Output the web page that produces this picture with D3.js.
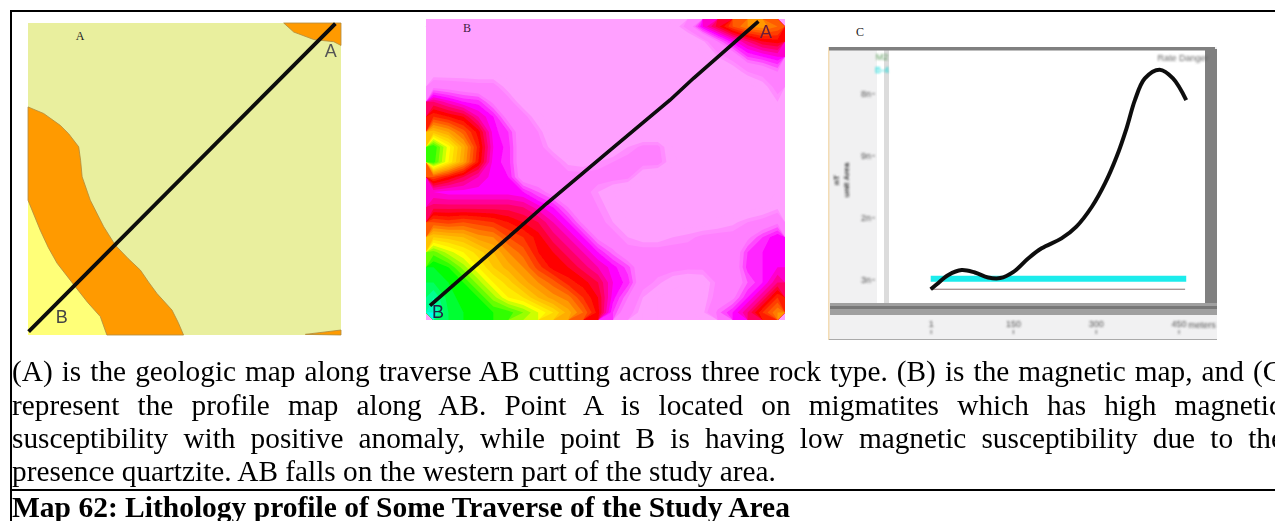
<!DOCTYPE html>
<html>
<head>
<meta charset="utf-8">
<script src="https://cdn.jsdelivr.net/npm/d3@7"></script>
<style>
  html, body { margin: 0; padding: 0; background: #fff; overflow: hidden; }
  svg { display: block; }
</style>
</head>
<body>
<div id="chart"></div>
<script>
// geologic map units, in percent of map width / height
var orangeBand = [[0,26.9],[5,29],[10.3,32.8],[13,35.5],[16.2,39.7],[16.8,44],[17.3,49.3],[19.9,56.8],[24.2,65.3],[27.9,71.2],[32,75.5],[35.9,79.2],[38.5,83],[41.2,86.7],[46,92],[48,96],[49.7,100],[25.2,100],[23.1,94.1],[19,89.5],[15.1,84.5],[9.3,77],[6.5,72],[3.9,66.4],[0,56.8]];
var quartzite = [[0,56.8],[3.9,66.4],[9.3,77],[15.1,84.5],[23.1,94.1],[25.2,100],[0,100]];
var migmatite = [[81.7,0],[84.9,2.9],[91.3,5.3],[97.7,6],[100,7.2],[100,0]];
var cornerPatch = [[88.6,99.8],[100,98.4],[100,100]];
var traverseA = [[98.2,0.2],[0.2,98.9]];

// magnetic map on a 24 x 20 grid
// 0 pale pink, 1 pink, 2 magenta, 3 red, 4 orange, 5 yellow, 6 green, 7 cyan
var magneticGrid = [
  0,0,0,0,0,0,0,0,0,0,0,0,0,0,0,0,0.3,1,2.2,2.9,3.6,4,4.1,3.8,
  0,0,0,0,0,0,0,0,0,0,0,0,0,0,0,0,0,0,0.5,1.4,2.1,2.6,3,3.1,
  0,0,0,0,0,0,0,0,0,0,0,0,0,0,0,0,0,0,0.2,0.6,1,1.8,2,2.2,
  0.2,0.2,0.2,0.2,0.2,0,0,0,0,0,0,0,0,0,0,0,0,0,0,0,0.3,0.8,1,1.4,
  1.3,1.2,1.1,1,1,0.4,0,0,0,0,0,0,0,0,0,0,0,0,0,0,0,0,0.4,1,
  2.6,2.3,2,1.9,1.3,1,0.3,0,0,0,0,0,0,0,0,0,0,0,0,0,0,0,0,0.6,
  3.4,3.2,3,2.4,2,1.2,1,0.3,0,0,0,0,0,0,0,0,0,0,0,0,0,0,0,0.2,
  4.5,4.2,3.7,3.1,2.1,1.8,1,0.8,0.1,0,0,0,0,0,0,0,0,0,0,0,0,0,0,0,
  6,5.1,4.3,3.3,2.2,1.9,1,1,0.4,0,0,0,0.2,0.6,0.9,0.9,0.2,0,0,0,0,0,0,0,
  5.9,5,4.2,3.2,2.1,1.9,1,1,1,0.5,0.4,0.6,0.8,1,1,1,0.3,0,0,0,0,0,0,0,
  3.6,3.2,2.8,2.4,2.1,2,1.1,1,1,1,1,1,1,0.9,0.2,0,0,0,0,0,0,0,0,0,
  2.2,2.1,2.1,2.1,2.1,2.1,2,1.6,1.2,1,1,0.6,0.2,0,0,0,0,0,0,0,0,0,0,0.2,
  2.7,2.7,2.7,2.7,2.7,2.7,2.6,2.3,2,1.4,1,0.8,0.4,0,0,0,0,0,0,0,0,0,0.2,0.5,
  3.6,3.5,3.6,3.5,3.4,3.2,3,2.8,2.4,2,1.3,1,0.6,0.2,0.2,0.2,0.2,0.2,0.2,0.3,0.5,0.8,1,1.3,
  4.6,4.5,4.4,4.1,4,3.6,3.4,3.1,2.7,2.4,2,1.3,1,0.6,0.4,0.4,0.6,0.7,0.9,1,1,1.3,1.8,2.2,
  5.7,5.3,5,4.7,4.4,4,3.7,3.2,3,2.7,2.4,2,1.5,1,1,1,1,1,1,1,1,1.8,2,2.1,
  6.2,6,5.5,5,4.6,4.3,4,3.5,3.1,3,2.7,2.4,2.1,1.7,1,1,1,0.9,0.9,1,1,1.9,2,2.2,
  6.4,6.2,6,5.5,5,4.7,4.3,4,3.7,3.3,3.1,2.8,2.2,1.9,1,0.7,0.3,0.2,0.3,0.9,1,1.6,2,2.6,
  6.8,6.3,6.1,6,5.5,5,4.8,4.4,4.1,3.9,3.4,3,2.1,1.4,0.6,0.2,0.1,0.1,0.4,1,1.3,2,2.6,3.4,
  7,6.4,6.2,6.1,6,5.9,5.6,5.2,4.8,4.3,3.8,3.1,1.8,1,0.4,0.2,0.1,0.1,0.5,1.5,2,2.6,3.4,4
];
var gridCols = 24, gridRows = 20;
var magneticLevels = [0, 0.45, 0.7, 1.3, 2, 3, 4, 5, 6, 7];
var magneticColors = ["#ffa0ff", "#ffa0ff", "#ff80ff", "#ff80ff", "#ff00ff", "#ff0000", "#ff9900", "#ffff00", "#00ff00", "#00ffee"];
var traverseB = [[92.6,0.8],[74.5,19.7],[68,26.9],[51.3,43.6],[33.6,61.3],[26.2,69.1],[1.1,95.2]];

// profile along AB
var profileX = [1,12,33,57,81,105,127,151,178,202,238,265,293,317,338,356,371,389,416,440,464];
var profileY = [-0.16,-0.08,0.07,0.15,0.11,0.03,0.02,0.12,0.34,0.5,0.66,0.85,1.17,1.55,1.98,2.44,2.89,3.24,3.38,3.24,2.89];
var regionalX = [1,464];
var regionalY = [0.01,0.01];
var baseX = [1,462];
var baseY = [-0.16,-0.16];
var xTicks = [1,150,300,450];
var xTickLabels = ["1","150","300","450"];
var yTicks = [0,1,2,3];
var yTickLabels = ["3n","2n","9n","8n"];

var captionLines = [
  "(A) is the geologic map along traverse AB cutting across three rock type. (B) is the magnetic map, and (C)",
  "represent the profile map along AB. Point A is located on migmatites which has high magnetic",
  "susceptibility with positive anomaly, while point B is having low magnetic susceptibility due to the",
  "presence quartzite. AB falls on the western part of the study area."
];
var captionJustify = [true, true, true, false];
var captionEnd = [1292, 1282, 1284, 0];
var title = "Map 62: Lithology profile of Some Traverse of the Study Area";

var width = 1275,
    height = 521;

var svg = d3.select("#chart")
  .append("svg")
  .attr("width", width)
  .attr("height", height);

var defs = svg.append("defs");
defs.append("filter").attr("id", "soft").append("feGaussianBlur").attr("stdDeviation", 0.5);
defs.append("filter").attr("id", "softer").append("feGaussianBlur").attr("stdDeviation", 0.8);

svg.append("rect").attr("width", width).attr("height", height).attr("fill", "#fff");

// ---- map A ----
var xA = d3.scaleLinear().domain([0, 100]).range([28, 341]);
var yA = d3.scaleLinear().domain([0, 100]).range([23, 335]);
var lineA = d3.line().x(function(d) { return xA(d[0]); }).y(function(d) { return yA(d[1]); });

var gA = svg.append("g").attr("filter", "url(#soft)");
gA.append("rect")
  .attr("x", xA(0)).attr("y", yA(0))
  .attr("width", xA(100) - xA(0)).attr("height", yA(100) - yA(0))
  .attr("fill", "#e9ef9e");
gA.append("path").attr("d", lineA(quartzite) + "Z").attr("fill", "#ffff78");
[orangeBand, migmatite, cornerPatch].forEach(function(p) {
  gA.append("path")
    .attr("d", lineA(p) + "Z")
    .attr("fill", "#ff9a05")
    .attr("stroke", "#b08a3a")
    .attr("stroke-width", 0.8);
});
gA.append("path")
  .attr("d", lineA(traverseA))
  .attr("fill", "none")
  .attr("stroke", "#0a0a0a")
  .attr("stroke-width", 3.8);
gA.append("text").attr("x", xA(96.7)).attr("y", yA(11)).attr("text-anchor", "middle")
  .attr("font-family", "Liberation Sans").attr("font-size", 18).attr("fill", "#555").text("A");
gA.append("text").attr("x", xA(10.8)).attr("y", yA(96)).attr("text-anchor", "middle")
  .attr("font-family", "Liberation Sans").attr("font-size", 18).attr("fill", "#444").text("B");
svg.append("text").attr("x", 80).attr("y", 39.5).attr("text-anchor", "middle")
  .attr("font-family", "Liberation Serif").attr("font-size", 12).attr("fill", "#222").text("A");

// ---- map B ----
var xB = d3.scaleLinear().domain([0, gridCols]).range([426, 785]);
var yB = d3.scaleLinear().domain([0, gridRows]).range([19, 320]);
var xBpct = d3.scaleLinear().domain([0, 100]).range([426, 785]);
var yBpct = d3.scaleLinear().domain([0, 100]).range([19, 320]);
var magneticColor = d3.scaleLinear().domain(magneticLevels).range(magneticColors);

var thresholds = d3.range(0, 7.2, 0.2);
var contours = d3.contours()
  .size([gridCols, gridRows])
  .smooth(true)
  .thresholds(thresholds)(magneticGrid);

var gridPath = d3.geoPath(d3.geoTransform({
  point: function(x, y) { this.stream.point(xB(x), yB(y)); }
}));

var gB = svg.append("g").attr("filter", "url(#soft)");
gB.append("rect")
  .attr("x", xB(0)).attr("y", yB(0))
  .attr("width", xB(gridCols) - xB(0)).attr("height", yB(gridRows) - yB(0))
  .attr("fill", magneticColors[0]);
gB.selectAll("path.band")
  .data(contours)
  .enter()
  .append("path")
  .attr("class", "band")
  .attr("d", gridPath)
  .attr("fill", function(d) { return magneticColor(d.value); });

var lineB = d3.line().x(function(d) { return xBpct(d[0]); }).y(function(d) { return yBpct(d[1]); });
gB.append("path")
  .attr("d", lineB(traverseB))
  .attr("fill", "none")
  .attr("stroke", "#0a0a0a")
  .attr("stroke-width", 3.6);
gB.append("text").attr("x", 766).attr("y", 38).attr("text-anchor", "middle")
  .attr("font-family", "Liberation Sans").attr("font-size", 18).attr("fill", "#6a1a3a").text("A");
gB.append("text").attr("x", 438).attr("y", 318).attr("text-anchor", "middle")
  .attr("font-family", "Liberation Sans").attr("font-size", 18).attr("fill", "#224").text("B");
svg.append("text").attr("x", 467).attr("y", 32).attr("text-anchor", "middle")
  .attr("font-family", "Liberation Serif").attr("font-size", 12).attr("fill", "#402040").text("B");

// ---- profile C ----
svg.append("text").attr("x", 860).attr("y", 36).attr("text-anchor", "middle")
  .attr("font-family", "Liberation Serif").attr("font-size", 12).attr("fill", "#222").text("C");

var gC = svg.append("g").attr("filter", "url(#soft)");
gC.append("rect").attr("x", 829).attr("y", 47).attr("width", 388).attr("height", 293).attr("fill", "#f1f1f2");
gC.append("rect").attr("x", 877).attr("y", 49).attr("width", 340).attr("height", 254).attr("fill", "#fff");
gC.append("rect").attr("x", 884).attr("y", 49).attr("width", 5).attr("height", 254).attr("fill", "#dcdcdc");
gC.append("rect").attr("x", 828).attr("y", 47).attr("width", 1.5).attr("height", 293).attr("fill", "#f3dcb4");
gC.append("rect").attr("x", 829).attr("y", 47).attr("width", 386).attr("height", 3.5).attr("fill", "#808080");
gC.append("rect").attr("x", 1205).attr("y", 49).attr("width", 12).attr("height", 254).attr("fill", "#808080");
gC.append("rect").attr("x", 830).attr("y", 303).attr("width", 387).attr("height", 12).attr("fill", "#a0a0a0");
gC.append("rect").attr("x", 830).attr("y", 306).attr("width", 387).attr("height", 3).attr("fill", "#787878");
gC.append("rect").attr("x", 829).attr("y", 339).attr("width", 388).attr("height", 1).attr("fill", "#aaa");

var xC = d3.scaleLinear().domain([1, 450]).range([930.7, 1178.5]);
var yC = d3.scaleLinear().domain([0, 3]).range([279.3, 93.3]);

var gBlur = svg.append("g").attr("filter", "url(#softer)");

var yAxis = d3.axisLeft(yC)
  .tickValues(yTicks)
  .tickSize(3)
  .tickPadding(1)
  .tickFormat(function(d, i) { return yTickLabels[i]; });
var gYAxis = gBlur.append("g").attr("transform", "translate(875,0)").call(yAxis);
gYAxis.select(".domain").remove();
gYAxis.selectAll("line").attr("stroke", "#777");

var xAxis = d3.axisBottom(xC)
  .tickValues(xTicks)
  .tickSize(0)
  .tickPadding(0)
  .tickFormat(function(d, i) { return xTickLabels[i]; });
var gXAxis = gBlur.append("g").attr("transform", "translate(0,322)").call(xAxis);
gXAxis.select(".domain").remove();
gXAxis.selectAll("text").attr("dy", "5");
gXAxis.selectAll("line").attr("y1", 8).attr("y2", 12).attr("stroke", "#666");

gBlur.selectAll(".tick text")
  .attr("font-family", "Liberation Sans")
  .attr("font-size", 9)
  .attr("fill", "#555");

var lineC = d3.line()
  .x(function(d) { return xC(d[0]); })
  .y(function(d) { return yC(d[1]); });

gC.append("path")
  .attr("d", lineC(d3.zip(regionalX, regionalY)))
  .attr("fill", "none")
  .attr("stroke", "#1fecec")
  .attr("stroke-width", 6);
gC.append("path")
  .attr("d", lineC(d3.zip(baseX, baseY)))
  .attr("fill", "none")
  .attr("stroke", "#8a6f6f")
  .attr("stroke-width", 1);
gC.append("path")
  .attr("d", lineC.curve(d3.curveCatmullRom)(d3.zip(profileX, profileY)))
  .attr("fill", "none")
  .attr("stroke", "#111")
  .attr("stroke-width", 4);

var cLabels = [
  { x: 882, y: 60, t: "M2", c: "#5a9a5a" },
  { x: 882, y: 73, t: "B-4", c: "#10d8d8" },
  { x: 1183, y: 61, t: "Rate Danger", c: "#666" },
  { x: 1202, y: 328, t: "meters", c: "#555" }
];
gBlur.selectAll("text.lab")
  .data(cLabels)
  .enter()
  .append("text")
  .attr("class", "lab")
  .attr("x", function(d) { return d.x; })
  .attr("y", function(d) { return d.y; })
  .attr("text-anchor", "middle")
  .attr("font-family", "Liberation Sans")
  .attr("font-size", 9)
  .attr("fill", function(d) { return d.c; })
  .text(function(d) { return d.t; });

gBlur.append("text")
  .attr("transform", "translate(839,180) rotate(-90)")
  .attr("text-anchor", "middle")
  .attr("font-family", "Liberation Sans").attr("font-size", 8).attr("font-weight", "bold").attr("fill", "#333")
  .text("nT");
gBlur.append("text")
  .attr("transform", "translate(849,180) rotate(-90)")
  .attr("text-anchor", "middle")
  .attr("font-family", "Liberation Sans").attr("font-size", 8).attr("font-weight", "bold").attr("fill", "#333")
  .text("unit Area");

// ---- caption ----
var gT = svg.append("g");
var baselines = [381, 415, 448, 481];
var captionSize = 29.3;
captionLines.forEach(function(line, i) {
  var t = gT.append("text")
    .attr("x", 12)
    .attr("y", baselines[i])
    .attr("font-family", "Liberation Serif")
    .attr("font-size", captionSize)
    .attr("fill", "#000")
    .text(line);
  if (captionJustify[i]) {
    var len = t.node().getComputedTextLength();
    var gaps = line.split(" ").length - 1;
    t.attr("word-spacing", (captionEnd[i] - 12 - len) / gaps);
  }
});

gT.append("text")
  .attr("x", 12)
  .attr("y", 517)
  .attr("font-family", "Liberation Serif")
  .attr("font-size", 29.5)
  .attr("font-weight", "bold")
  .attr("fill", "#000")
  .text(title);

// ---- frame ----
svg.append("rect").attr("x", 10).attr("y", 10).attr("width", 1265).attr("height", 2).attr("fill", "#000");
svg.append("rect").attr("x", 10).attr("y", 10).attr("width", 2).attr("height", 511).attr("fill", "#000");
svg.append("rect").attr("x", 10).attr("y", 489).attr("width", 1265).attr("height", 2).attr("fill", "#000");
</script>
</body>
</html>
